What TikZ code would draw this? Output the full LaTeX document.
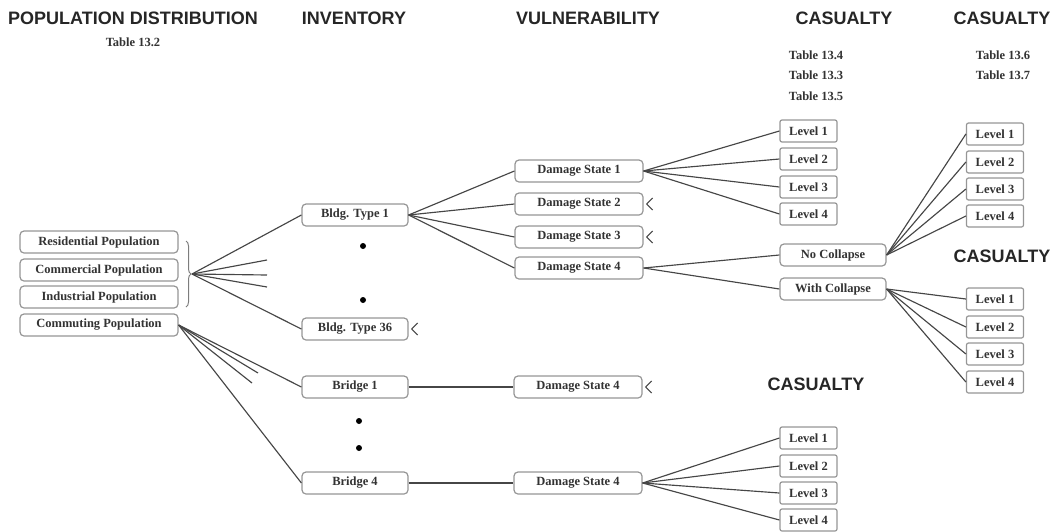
\documentclass[tikz,border=0pt]{standalone}
\usepackage{fontspec}
\setmainfont{Liberation Serif}
\newfontfamily\headsans{Liberation Sans}
\usepackage{tikz}
\usetikzlibrary{
    positioning,
    calc,
    decorations.pathreplacing
}
\definecolor{boxGray}{RGB}{150, 150, 150}
\definecolor{lineGray}{RGB}{70, 70, 70}

\tikzset{
    head/.style={font=\headsans\bfseries\fontsize{18}{18}\selectfont, text=black!85},
    tab/.style={font=\bfseries\fontsize{12.5}{13}\selectfont, text=black!80},
    box/.style={draw=boxGray, line width=1.2pt, rounded corners=4pt, fill=white,
        inner sep=0pt, minimum height=22pt,
        font=\bfseries\fontsize{12.5}{13}\selectfont, text=black!80},
    lvl/.style={box, rounded corners=2pt, minimum width=57pt},
    link/.style={draw=lineGray, line width=1.15pt},
    dot/.style={circle, fill=black, inner sep=0pt, minimum size=6pt}
}

\newcommand{\trimfan}[1]{%
    \draw[link] ($(#1.east)+(3,0)$) -- ++(6,-6)
                ($(#1.east)+(3,0)$) -- ++(6,6);}

\begin{document}
\begin{tikzpicture}[x=1pt, y=-1pt]
    \useasboundingbox (0,0) rectangle (1053,531);

    % column titles
    \node[head] (popHead) at (133,18) {POPULATION DISTRIBUTION};
    \node[tab] (popTab) at (133,42) {Table 13.2};
    \node[head] (invHead) at (354,18) {INVENTORY};
    \node[head] (vulHead) at (588,18) {VULNERABILITY};
    \node[head] (casHeadA) at (844,18) {CASUALTY};
    \node[head] (casHeadB) at (1002,18) {CASUALTY};
    \node[head] (casHeadC) at (1002,256) {CASUALTY};
    \node[head] (casHeadD) at (816,384) {CASUALTY};
    \node[tab] (tabA) at (816,55) {Table 13.4};
    \node[tab] (tabB) at (816,75) {Table 13.3};
    \node[tab] (tabC) at (816,96) {Table 13.5};
    \node[tab] (tabD) at (1003,55) {Table 13.6};
    \node[tab] (tabE) at (1003,75) {Table 13.7};

    % population groups
    \node[box, minimum width=158pt] (res) at (99,242) {Residential Population};
    \node[box, minimum width=158pt] (com) at (99,270) {Commercial Population};
    \node[box, minimum width=158pt] (ind) at (99,297) {Industrial Population};
    \node[box, minimum width=158pt] (cmt) at (99,325) {Commuting Population};
    \draw[lineGray!70, line width=1pt, decorate, decoration={brace, amplitude=5pt}]
        (186,241) -- (186,307);
    \coordinate (brace) at (192,274);

    % inventory
    \node[box, minimum width=106pt] (bt1) at (355,215) {Bldg. Type 1};
    \node[box, minimum width=106pt] (bt36) at (355,329) {Bldg. Type 36};
    \node[box, minimum width=106pt] (br1) at (355,387) {Bridge 1};
    \node[box, minimum width=106pt] (br4) at (355,483) {Bridge 4};
    \node[dot] (dotA) at (363,246) {};
    \node[dot] (dotB) at (363,300) {};
    \node[dot] (dotC) at (359,421) {};
    \node[dot] (dotD) at (359,448) {};

    % vulnerability
    \node[box, minimum width=128pt] (ds1) at (579,171) {Damage State 1};
    \node[box, minimum width=128pt] (ds2) at (579,204) {Damage State 2};
    \node[box, minimum width=128pt] (ds3) at (579,237) {Damage State 3};
    \node[box, minimum width=128pt] (ds4) at (579,268) {Damage State 4};
    \node[box, minimum width=128pt] (dsB1) at (578,387) {Damage State 4};
    \node[box, minimum width=128pt] (dsB4) at (578,483) {Damage State 4};

    % casualty
    \node[box, minimum width=106pt] (noCol) at (833,255) {No Collapse};
    \node[box, minimum width=106pt] (withCol) at (833,289) {With Collapse};
    \foreach \i/\y in {1/131, 2/159, 3/187, 4/214}
        \node[lvl] (lv\i) at (808.5,\y) {Level \i};
    \foreach \i/\y in {1/134, 2/162, 3/189, 4/216}
        \node[lvl] (nc\i) at (995,\y) {Level \i};
    \foreach \i/\y in {1/299, 2/327, 3/354, 4/382}
        \node[lvl] (wc\i) at (995,\y) {Level \i};
    \foreach \i/\y in {1/438, 2/466, 3/493, 4/520}
        \node[lvl] (bl\i) at (808.5,\y) {Level \i};

    % connectors
    \coordinate (stubA) at (267,260);
    \coordinate (stubB) at (267,275);
    \coordinate (stubC) at (267,287);
    \coordinate (stubD) at (258,373);
    \coordinate (stubE) at (252,383);
    \draw[link] (brace) -- (bt1.west);
    \draw[link] (brace) -- (bt36.west);
    \foreach \s in {stubA, stubB, stubC}
        \draw[link] (brace) -- (\s);
    \draw[link] (cmt.east) -- (br1.west);
    \draw[link] (cmt.east) -- (br4.west);
    \foreach \s in {stubD, stubE}
        \draw[link] (cmt.east) -- (\s);

    \foreach \d in {ds1, ds2, ds3, ds4}
        \draw[link] (bt1.east) -- (\d.west);
    \draw[link] (br1.east) -- (dsB1.west);
    \draw[link] (br4.east) -- (dsB4.west);

    \foreach \i in {1,...,4} {
        \draw[link] (ds1.east) -- (lv\i.west);
        \draw[link] (noCol.east) -- (nc\i.west);
        \draw[link] (withCol.east) -- (wc\i.west);
        \draw[link] (dsB4.east) -- (bl\i.west);
    }
    \draw[link] (ds4.east) -- (noCol.west);
    \draw[link] (ds4.east) -- (withCol.west);

    % branches left out
    \trimfan{bt36}
    \trimfan{ds2}
    \trimfan{ds3}
    \trimfan{dsB1}
\end{tikzpicture}
\end{document}
